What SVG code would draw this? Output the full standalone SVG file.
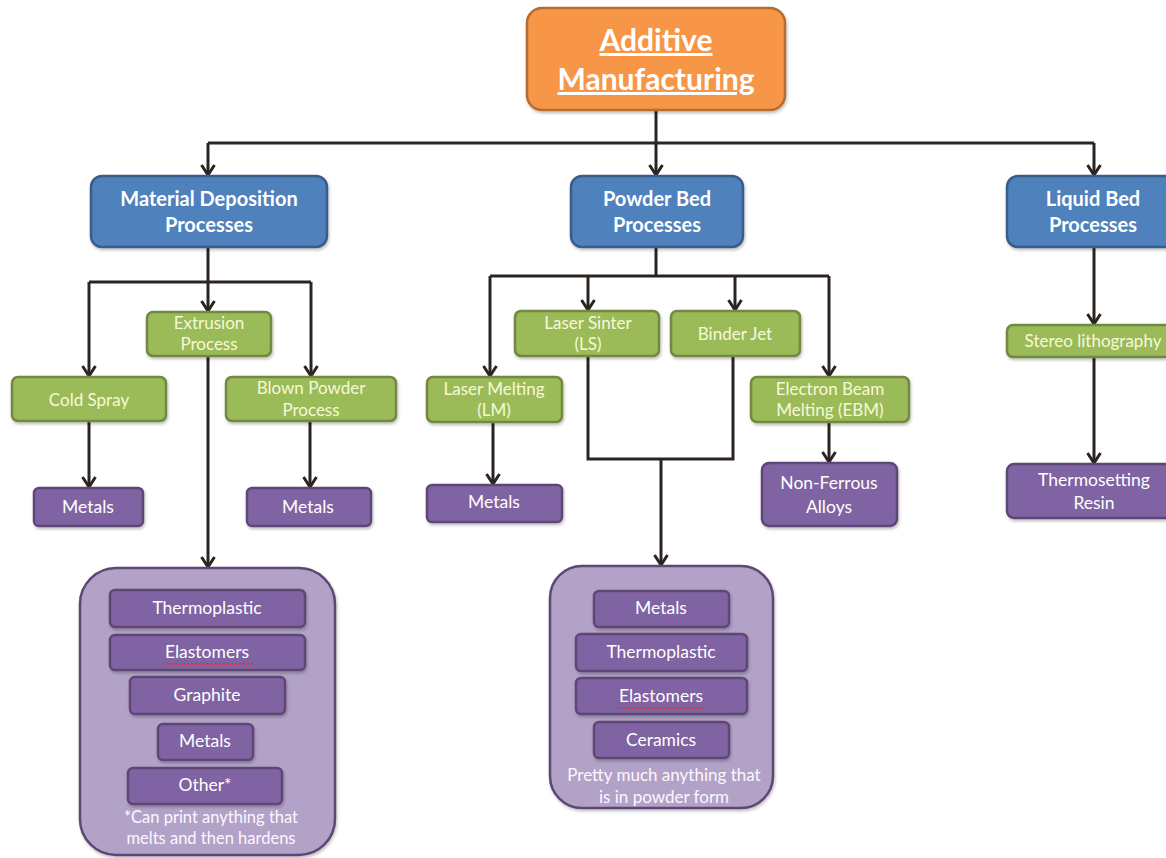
<svg xmlns="http://www.w3.org/2000/svg" width="1166" height="858" viewBox="0 0 1166 858">
  <defs>
    <!-- open chevron arrowhead, drawn along +x so orient="auto" follows the line -->
    <marker id="arrow" markerUnits="userSpaceOnUse" markerWidth="14" markerHeight="16" refX="12" refY="8" orient="auto" viewBox="0 0 14 16">
      <polyline points="2,1.5 12,8 2,14.5" fill="none" stroke="#2b2421" stroke-width="3"/>
    </marker>
    <filter id="shadow" x="-10%" y="-10%" width="130%" height="140%">
      <feDropShadow dx="1" dy="2" stdDeviation="1.5" flood-color="#000" flood-opacity="0.25"/>
    </filter>
  </defs>
  <style>
    text { font-family: Lato, "Open Sans", "Liberation Sans", sans-serif; text-anchor: middle; }
    .orange { fill: #f79646; stroke: #b66d31; stroke-width: 2.5; filter: url(#shadow); }
    .blue { fill: #4f81bd; stroke: #385d8a; stroke-width: 2.5; filter: url(#shadow); }
    .green { fill: #9bbb59; stroke: #71893f; stroke-width: 2.5; filter: url(#shadow); }
    .purple { fill: #8064a2; stroke: #5c4776; stroke-width: 2.5; filter: url(#shadow); }
    .group { fill: #b3a2c7; stroke: #5c4776; stroke-width: 2.5; filter: url(#shadow); }
    .t-title { fill: #ffffff; font-size: 30px; font-weight: bold; text-decoration: underline; }
    .t-blue { fill: #ffffff; font-size: 20px; font-weight: bold; }
    .t-green { fill: #f6f9d8; font-size: 17px; }
    .t-purple { fill: #ffffff; font-size: 17.5px; }
    .t-note { fill: #fbf7ff; font-size: 17px; }
    .spell { fill: none; stroke: #e03030; stroke-width: 1; }
    .conn { fill: none; stroke: #2b2421; stroke-width: 3; }
  </style>
  <rect width="1166" height="858" fill="#ffffff"/>

  <!-- connectors -->
  <g id="connectors" class="conn">
    <!-- root to categories -->
    <path d="M656,110 V143"/>
    <path d="M208,143 H1094"/>
    <path d="M208,143 V175" marker-end="url(#arrow)"/>
    <path d="M656,143 V175" marker-end="url(#arrow)"/>
    <path d="M1094,143 V175" marker-end="url(#arrow)"/>
    <!-- material deposition branches -->
    <path d="M208,247 V282"/>
    <path d="M89,282 H311"/>
    <path d="M89,282 V376" marker-end="url(#arrow)"/>
    <path d="M208,282 V311" marker-end="url(#arrow)"/>
    <path d="M311,282 V376" marker-end="url(#arrow)"/>
    <path d="M89,421 V487" marker-end="url(#arrow)"/>
    <path d="M310,421 V487" marker-end="url(#arrow)"/>
    <path d="M208,356 V567" marker-end="url(#arrow)"/>
    <!-- powder bed branches -->
    <path d="M656,247 V276"/>
    <path d="M490,276 H829"/>
    <path d="M490,276 V376" marker-end="url(#arrow)"/>
    <path d="M588,276 V310" marker-end="url(#arrow)"/>
    <path d="M735,276 V310" marker-end="url(#arrow)"/>
    <path d="M829,276 V376" marker-end="url(#arrow)"/>
    <path d="M588,356 V459 H733 V356"/>
    <path d="M661,459 V565" marker-end="url(#arrow)"/>
    <path d="M493,422 V484" marker-end="url(#arrow)"/>
    <path d="M829,422 V462" marker-end="url(#arrow)"/>
    <!-- liquid bed branch -->
    <path d="M1094,247 V324" marker-end="url(#arrow)"/>
    <path d="M1094,357 V463" marker-end="url(#arrow)"/>
  </g>

  <!-- root -->
  <g id="additive-manufacturing">
    <rect class="orange" x="527" y="8" width="258" height="102" rx="15"/>
    <text class="t-title" x="656" y="51">Additive</text>
    <text class="t-title" x="656" y="90">Manufacturing</text>
  </g>

  <!-- categories -->
  <g id="material-deposition">
    <rect class="blue" x="91" y="176" width="236" height="71" rx="11"/>
    <text class="t-blue" x="209" y="206">Material Deposition</text>
    <text class="t-blue" x="209" y="232">Processes</text>
  </g>
  <g id="powder-bed">
    <rect class="blue" x="571" y="176" width="172" height="71" rx="11"/>
    <text class="t-blue" x="657" y="206">Powder Bed</text>
    <text class="t-blue" x="657" y="232">Processes</text>
  </g>
  <g id="liquid-bed">
    <rect class="blue" x="1007" y="176" width="175" height="71" rx="11"/>
    <text class="t-blue" x="1093" y="206">Liquid Bed</text>
    <text class="t-blue" x="1093" y="232">Processes</text>
  </g>

  <!-- material deposition processes -->
  <g id="extrusion">
    <rect class="green" x="147" y="312" width="124" height="44" rx="6"/>
    <text class="t-green" x="209" y="329">Extrusion</text>
    <text class="t-green" x="209" y="350">Process</text>
  </g>
  <g id="cold-spray">
    <rect class="green" x="12" y="377" width="154" height="44" rx="6"/>
    <text class="t-green" x="89" y="406">Cold Spray</text>
  </g>
  <g id="blown-powder">
    <rect class="green" x="226" y="377" width="170" height="44" rx="6"/>
    <text class="t-green" x="311" y="394">Blown Powder</text>
    <text class="t-green" x="311" y="416">Process</text>
  </g>
  <g id="cold-spray-metals">
    <rect class="purple" x="34" y="488" width="109" height="38" rx="5"/>
    <text class="t-purple" x="88" y="513">Metals</text>
  </g>
  <g id="blown-powder-metals">
    <rect class="purple" x="247" y="488" width="124" height="38" rx="5"/>
    <text class="t-purple" x="308" y="513">Metals</text>
  </g>

  <!-- extrusion materials -->
  <g id="extrusion-materials">
    <rect class="group" x="80" y="568" width="255" height="287" rx="36"/>
    <rect class="purple" x="110" y="590" width="195" height="37" rx="5"/>
    <text class="t-purple" x="207" y="614">Thermoplastic</text>
    <rect class="purple" x="110" y="635" width="195" height="35" rx="5"/>
    <text class="t-purple" x="207" y="658">Elastomers</text>
    <path class="spell" d="M164,663 l2,2 l2,-2 l2,2 l2,-2 l2,2 l2,-2 l2,2 l2,-2 l2,2 l2,-2 l2,2 l2,-2 l2,2 l2,-2 l2,2 l2,-2 l2,2 l2,-2 l2,2 l2,-2 l2,2 l2,-2 l2,2 l2,-2 l2,2 l2,-2 l2,2 l2,-2 l2,2 l2,-2 l2,2 l2,-2 l2,2 l2,-2 l2,2 l2,-2 l2,2 l2,-2 l2,2 l2,-2 l2,2 l2,-2 l2,2 l2,-2 l2,2"/>
    <rect class="purple" x="130" y="677" width="155" height="37" rx="5"/>
    <text class="t-purple" x="207" y="701">Graphite</text>
    <rect class="purple" x="158" y="724" width="95" height="36" rx="5"/>
    <text class="t-purple" x="205" y="747">Metals</text>
    <rect class="purple" x="128" y="768" width="154" height="36" rx="5"/>
    <text class="t-purple" x="205" y="791">Other*</text>
    <text class="t-note" x="211" y="823" style="font-size:16.5px">*Can print anything that</text>
    <text class="t-note" x="211" y="844" style="font-size:16.5px">melts and then hardens</text>
  </g>

  <!-- powder bed processes -->
  <g id="laser-sinter">
    <rect class="green" x="515" y="311" width="144" height="45" rx="6"/>
    <text class="t-green" x="588" y="329">Laser Sinter</text>
    <text class="t-green" x="588" y="350">(LS)</text>
  </g>
  <g id="binder-jet">
    <rect class="green" x="671" y="311" width="129" height="45" rx="6"/>
    <text class="t-green" x="735" y="340">Binder Jet</text>
  </g>
  <g id="laser-melting">
    <rect class="green" x="427" y="377" width="135" height="45" rx="6"/>
    <text class="t-green" x="494" y="395">Laser Melting</text>
    <text class="t-green" x="494" y="416">(LM)</text>
  </g>
  <g id="electron-beam">
    <rect class="green" x="751" y="377" width="158" height="45" rx="6"/>
    <text class="t-green" x="830" y="395">Electron Beam</text>
    <text class="t-green" x="830" y="416">Melting (EBM)</text>
  </g>
  <g id="laser-melting-metals">
    <rect class="purple" x="427" y="485" width="135" height="37" rx="5"/>
    <text class="t-purple" x="494" y="508">Metals</text>
  </g>
  <g id="non-ferrous">
    <rect class="purple" x="762" y="463" width="135" height="63" rx="7"/>
    <text class="t-purple" x="829" y="489">Non-Ferrous</text>
    <text class="t-purple" x="829" y="513">Alloys</text>
  </g>

  <!-- powder bed materials -->
  <g id="powder-materials">
    <rect class="group" x="550" y="566" width="223" height="242" rx="32"/>
    <rect class="purple" x="594" y="591" width="135" height="36" rx="5"/>
    <text class="t-purple" x="661" y="614">Metals</text>
    <rect class="purple" x="576" y="634" width="171" height="37" rx="5"/>
    <text class="t-purple" x="661" y="658">Thermoplastic</text>
    <rect class="purple" x="576" y="678" width="171" height="36" rx="5"/>
    <text class="t-purple" x="661" y="702">Elastomers</text>
    <path class="spell" d="M618,707 l2,2 l2,-2 l2,2 l2,-2 l2,2 l2,-2 l2,2 l2,-2 l2,2 l2,-2 l2,2 l2,-2 l2,2 l2,-2 l2,2 l2,-2 l2,2 l2,-2 l2,2 l2,-2 l2,2 l2,-2 l2,2 l2,-2 l2,2 l2,-2 l2,2 l2,-2 l2,2 l2,-2 l2,2 l2,-2 l2,2 l2,-2 l2,2 l2,-2 l2,2 l2,-2 l2,2 l2,-2 l2,2 l2,-2 l2,2"/>
    <rect class="purple" x="594" y="722" width="135" height="36" rx="5"/>
    <text class="t-purple" x="661" y="746">Ceramics</text>
    <text class="t-note" x="664" y="781">Pretty much anything that</text>
    <text class="t-note" x="664" y="803">is in powder form</text>
  </g>

  <!-- liquid bed processes -->
  <g id="stereo-lithography">
    <rect class="green" x="1007" y="325" width="175" height="32" rx="6"/>
    <text class="t-green" x="1093" y="347">Stereo lithography</text>
  </g>
  <g id="thermosetting-resin">
    <rect class="purple" x="1007" y="464" width="175" height="54" rx="7"/>
    <text class="t-purple" x="1094" y="486">Thermosetting</text>
    <text class="t-purple" x="1094" y="509">Resin</text>
  </g>
</svg>
